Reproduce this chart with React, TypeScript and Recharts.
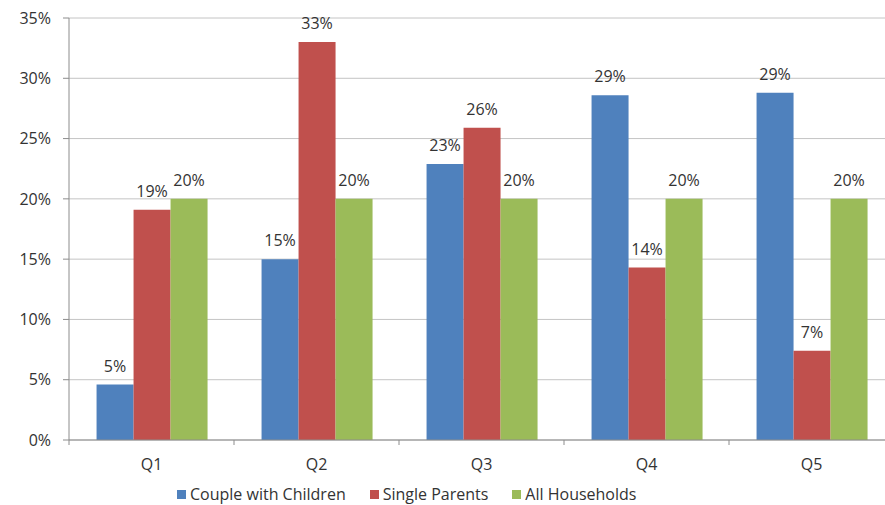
import { BarChart, Bar, XAxis, YAxis, CartesianGrid, Legend, LabelList } from "recharts"

const quintiles = ["Q1", "Q2", "Q3", "Q4", "Q5"]
const coupleWithChildren = [4.6, 15.0, 22.9, 28.6, 28.8]
const singleParents = [19.1, 33.0, 25.9, 14.3, 7.4]
const allHouseholds = [20, 20, 20, 20, 20]
const yTicks = [0, 5, 10, 15, 20, 25, 30, 35]

const series = [
  { key: "couple", name: "Couple with Children", color: "#4F81BD" },
  { key: "single", name: "Single Parents", color: "#C0504D" },
  { key: "all", name: "All Households", color: "#9BBB59" },
]

const data = quintiles.map((q, i) => ({
  q,
  couple: coupleWithChildren[i],
  single: singleParents[i],
  all: allHouseholds[i],
}))

const FONT = "'Open Sans', sans-serif"
const TEXT = "#333333"
const AXIS = "#8c8c8c"

function QuintileTick(props: any) {
  const { x, y, payload, index, width } = props
  const band = width / quintiles.length
  return (
    <g>
      <line x1={x - band / 2} x2={x - band / 2} y1={y - 8} y2={y - 3} stroke={AXIS} />
      {index === quintiles.length - 1 && (
        <line x1={x + band / 2} x2={x + band / 2} y1={y - 8} y2={y - 3} stroke={AXIS} />
      )}
      <text x={x} y={y + 22} textAnchor="middle" fill={TEXT} fontSize={16} fontFamily={FONT}>
        {payload.value}
      </text>
    </g>
  )
}

function LegendContent() {
  return (
    <div style={{ display: "flex", gap: 24, fontFamily: FONT, fontSize: 16, color: TEXT }}>
      {series.map((s) => (
        <div key={s.key} style={{ display: "flex", alignItems: "center", gap: 4 }}>
          <span style={{ width: 9, height: 9, background: s.color, display: "inline-block" }} />
          <span>{s.name}</span>
        </div>
      ))}
    </div>
  )
}

export default function App() {
  return (
    <div
      style={{
        position: "fixed",
        left: 0,
        top: 0,
        width: 885,
        height: 505,
        overflow: "hidden",
        background: "#fff",
      }}
    >
      <BarChart
        width={900}
        height={505}
        data={data}
        margin={{ top: 18, right: 6, bottom: 0, left: 0 }}
        barCategoryGap="16.7%"
        barGap={0}
      >
        <CartesianGrid vertical={false} stroke="#c4c4c4" />
        <XAxis
          dataKey="q"
          height={40}
          axisLine={{ stroke: AXIS }}
          tickLine={false}
          tick={<QuintileTick />}
          interval={0}
        />
        <YAxis
          width={69}
          domain={[0, 35]}
          ticks={yTicks}
          tickFormatter={(v) => `${v}%`}
          axisLine={{ stroke: AXIS }}
          tickLine={{ stroke: AXIS }}
          tickSize={6}
          tickMargin={12}
          tick={{ fill: TEXT, fontSize: 16, fontFamily: FONT }}
        />
        <Legend
          verticalAlign="bottom"
          align="left"
          content={<LegendContent />}
          wrapperStyle={{ left: 177, width: "auto", height: 25, bottom: -3 }}
        />
        {series.map((s) => (
          <Bar key={s.key} dataKey={s.key} name={s.name} fill={s.color} isAnimationActive={false}>
            <LabelList
              dataKey={s.key}
              position="top"
              offset={13}
              formatter={(v: any) => `${Math.round(Number(v))}%`}
              fill={TEXT}
              fontSize={16}
              fontFamily={FONT}
            />
          </Bar>
        ))}
      </BarChart>
    </div>
  )
}
